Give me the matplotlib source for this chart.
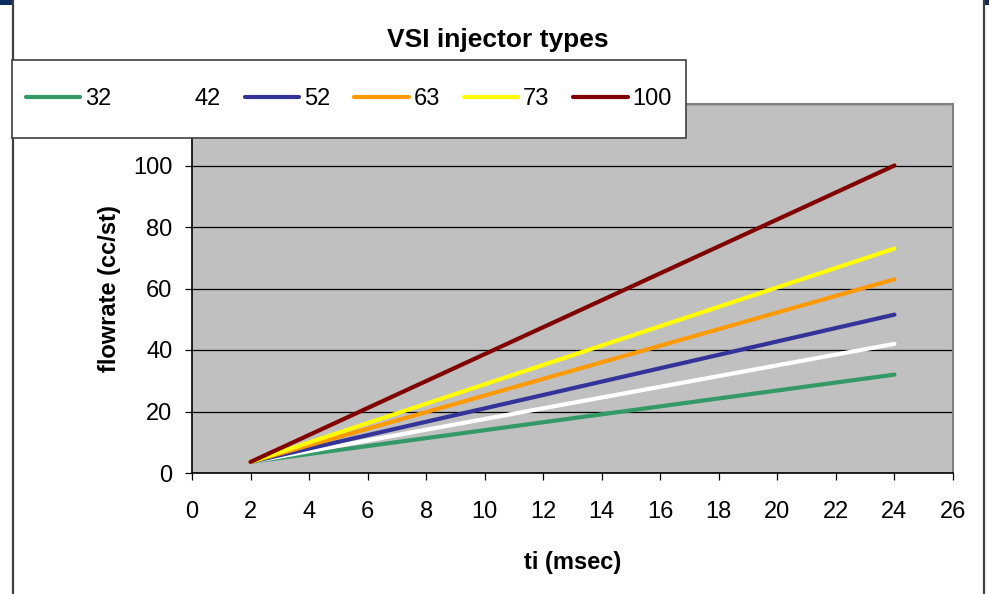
import numpy as np
import matplotlib.pyplot as plt
from matplotlib.patches import Rectangle
from matplotlib.lines import Line2D

plt.rcParams['font.family'] = ['Liberation Sans', 'DejaVu Sans']

ti = [2, 24]
sizes = ['32', '42', '52', '63', '73', '100']
flow = {
    '32': [3.6, 32],
    '42': [3.6, 42],
    '52': [3.6, 51.5],
    '63': [3.6, 63],
    '73': [3.6, 73],
    '100': [3.6, 100],
}
colors = ['#339966', '#FFFFFF', '#333399', '#FF9900', '#FFFF00', '#800000']

W, H = 989, 594
fig = plt.figure(figsize=(W/100, H/100), dpi=100)
ax = fig.add_axes([192/W, 1-473/H, (953-192)/W, (473-104)/H])
ax.set_facecolor('#C0C0C0')

for s, c in zip(sizes, colors):
    ax.plot(ti, flow[s], color=c, lw=3.0, label=s, solid_capstyle='round')

ax.set_xlim(0, 26)
ax.set_ylim(0, 120)
ax.set_xticks(np.arange(0, 27, 2))
ax.set_yticks(np.arange(0, 121, 20))
ax.yaxis.grid(True, color='black', lw=0.9)
ax.set_axisbelow(True)
ax.tick_params(axis='both', direction='out', length=5, width=0.9, labelsize=17, color='black')
ax.tick_params(axis='x', pad=15)
ax.tick_params(axis='y', pad=9)
for sp in ['left', 'bottom']:
    ax.spines[sp].set_color('black')
    ax.spines[sp].set_linewidth(1.2)
for sp in ['top', 'right']:
    ax.spines[sp].set_color('#808080')
    ax.spines[sp].set_linewidth(1.5)

ax.set_xlabel('ti (msec)', fontsize=17, fontweight='bold', labelpad=20)
ax.set_ylabel('flowrate (cc/st)', fontsize=17, fontweight='bold', labelpad=9)

fig.text(498/W, 1-40/H, 'VSI injector types', fontsize=19, fontweight='bold',
         ha='center', va='center')

# legend box (drawn over the plot area, hides the 120 label)
lx0, lx1, ly0, ly1 = 12, 686, 60, 138
fig.add_artist(Rectangle((lx0/W, 1-ly1/H), (lx1-lx0)/W, (ly1-ly0)/H,
                         facecolor='white', edgecolor='#404040', lw=1.2, zorder=3))
handles, labels = ax.get_legend_handles_labels()
leg = fig.legend(handles, labels, loc='center left', ncol=6, mode='expand',
                 bbox_to_anchor=(lx0/W, 1-ly1/H, (lx1-lx0)/W, (ly1-ly0)/H),
                 fontsize=17, handlelength=2.3, handletextpad=0.2,
                 columnspacing=1.0, borderaxespad=0, borderpad=0.6,
                 frameon=False)
leg.set_zorder(4)

# outer frame and slide corners
fig.add_artist(Line2D([13/W, 13/W], [0, 1], color='#404040', lw=1.6))
fig.add_artist(Line2D([984/W, 984/W], [0, 1], color='#404040', lw=1.6))
fig.add_artist(Rectangle((0, 1-5/H), 13/W, 5/H, color='#0B2D5E', lw=0))
fig.add_artist(Rectangle((984/W, 1-5/H), 5/W, 5/H, color='#0B2D5E', lw=0))

fig.savefig('out.png', dpi=100)
